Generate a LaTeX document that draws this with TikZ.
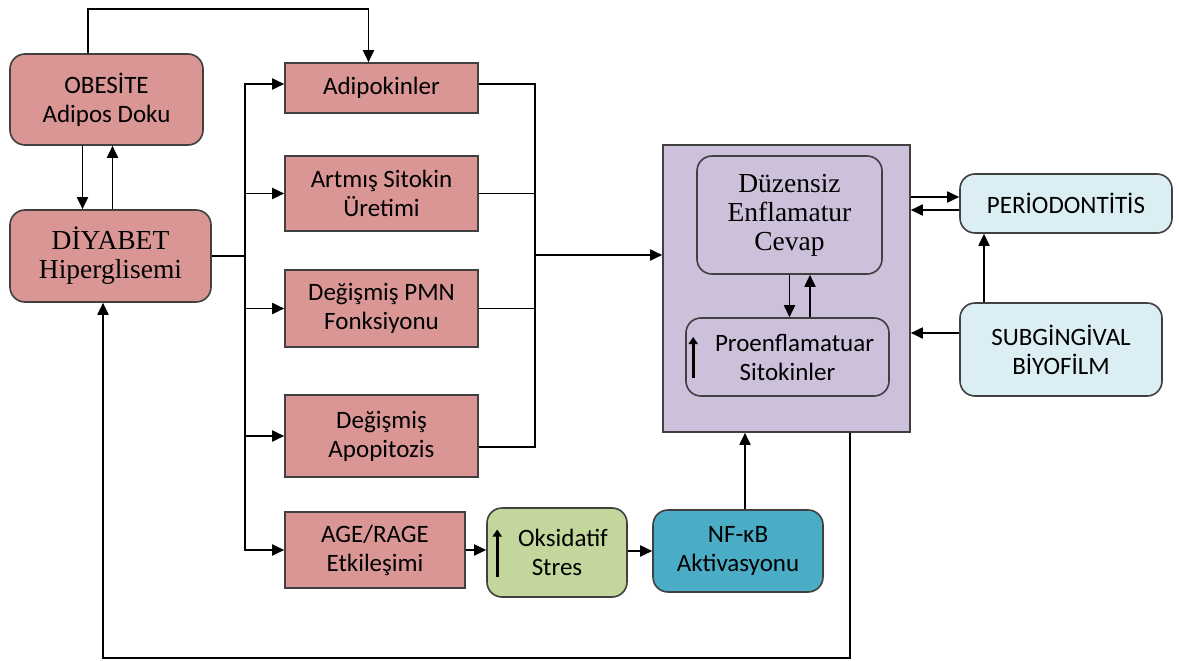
\documentclass[tikz,border=0pt]{standalone}
\usepackage{fontspec}
\setmainfont{Carlito}
\newfontfamily\seriffont{Liberation Serif}
\usetikzlibrary{arrows.meta}

\definecolor{boxline}{HTML}{404040}
\definecolor{pinkfill}{HTML}{D99694}
\definecolor{lilacfill}{HTML}{CCC0DA}
\definecolor{skyfill}{HTML}{DBEEF4}
\definecolor{limefill}{HTML}{C3D69B}
\definecolor{tealfill}{HTML}{4BACC6}

\begin{document}
\begin{tikzpicture}[
x=1pt, y=-1pt,
every node/.style={draw=boxline, line width=1.6pt, align=center, inner sep=0pt,
  font=\fontsize{25}{29}\selectfont},
redbox/.style={fill=pinkfill, minimum width=193pt},
roundbox/.style={rounded corners=15pt},
serifbox/.style={font=\seriffont\fontsize{27.5}{29}\selectfont},
>={Triangle[length=12pt,width=11pt]},
arr/.style={->, line width=1.8pt},
uparr/.style={-{Triangle[length=7pt,width=9pt]}, line width=3pt}
]
\useasboundingbox (0,0) rectangle (1179,661);

% left column
\node (obes) [redbox, roundbox, minimum height=91pt] at (106.5,99.5) {OBESİTE\\Adipos Doku};
\node (diab) [redbox, roundbox, serifbox, minimum width=201pt, minimum height=92pt] at (110.5,256) {DİYABET\\Hiperglisemi};

% mechanisms
\node (adip) [redbox, minimum height=50pt] at (381.5,88) {Adipokinler};
\node (sito) [redbox, minimum height=75pt] at (381.5,193.5) {Artmış Sitokin\\Üretimi};
\node (pmn) [redbox, minimum height=77pt] at (381.5,308.5) {Değişmiş PMN\\Fonksiyonu};
\node (apop) [redbox, minimum height=82pt] at (381.5,436) {Değişmiş\\Apopitozis};
\node (age) [redbox, minimum width=180pt, minimum height=76pt] at (375,550) {AGE/RAGE\\Etkileşimi};
\node (oks) [roundbox, fill=limefill, minimum width=140pt, minimum height=89pt] at (557,552.5) {\hspace*{12pt}Oksidatif\\Stres};
\node (nfkb) [roundbox, fill=tealfill, minimum width=170pt, minimum height=82pt] at (738,551) {NF-κB\\Aktivasyonu};

% inflammation block
\node (infl) [fill=lilacfill, minimum width=247pt, minimum height=287pt] at (786.5,288.5) {};
\node (duz) [roundbox, serifbox, fill=lilacfill, minimum width=185pt, minimum height=118pt] at (789.5,215) {Düzensiz\\Enflamatur\\Cevap};
\node (pro) [roundbox, fill=lilacfill, minimum width=203pt, minimum height=78pt] at (787.5,357) {\hspace*{14pt}Proenflamatuar\\Sitokinler};

% right column
\node (perio) [roundbox, fill=skyfill, minimum width=212pt, minimum height=59pt] at (1066,203.5) {PERİODONTİTİS};
\node (subg) [roundbox, fill=skyfill, minimum width=202pt, minimum height=93pt] at (1061,349.5) {SUBGİNGİVAL\\BİYOFİLM};

% increase marks
\draw[uparr] ([xshift=8pt,yshift=-21pt]pro.west) -- ([xshift=8pt,yshift=20pt]pro.west);
\draw[uparr] ([xshift=11pt,yshift=-24pt]oks.west) -- ([xshift=11pt,yshift=23pt]oks.west);

% obesity and diabetes
\draw[arr] ([xshift=-18.5pt]obes.north) -- ++(0,-44) -| ([xshift=-13pt]adip.north);
\draw[arr] ([xshift=-24pt]obes.south) -- ([xshift=-24pt]obes.south |- diab.north);
\draw[arr] ([xshift=6pt]obes.south |- diab.north) -- ([xshift=6pt]obes.south);

% bus to mechanisms
\draw[arr] (diab.east) -- ++(33,0) |- ([yshift=4pt]adip.west);
\draw[arr] (diab.east) -- ++(33,0) |- (sito.west);
\draw[arr] (diab.east) -- ++(33,0) |- (pmn.west);
\draw[arr] (diab.east) -- ++(33,0) |- (apop.west);
\draw[arr] (diab.east) -- ++(33,0) |- (age.west);

% mechanisms to inflammation
\coordinate (merge) at (535,255);
\draw[line width=1.8pt] ([yshift=4pt]adip.east) -| (merge);
\draw[line width=1.8pt] (sito.east) -| (merge);
\draw[line width=1.8pt] (pmn.east) -| (merge);
\draw[line width=1.8pt] ([yshift=-11pt]apop.east) -| (merge);
\draw[arr] (merge) -- (merge -| infl.west);

\draw[arr] (age.east) -- (age.east -| oks.west);
\draw[arr] (nfkb.west -| oks.east) -- (nfkb.west);
\draw[arr] ([xshift=7pt]nfkb.north) -- ([xshift=7pt]nfkb.north |- infl.south);

\draw[arr] (duz.south) -- (duz.south |- pro.north);
\draw[arr] ([xshift=20.5pt]duz.south |- pro.north) -- ([xshift=20.5pt]duz.south);

% periodontal side
\draw[arr] ([yshift=6.5pt]perio.west -| infl.east) -- ([yshift=6.5pt]perio.west);
\draw[arr] ([yshift=-6.5pt]perio.west) -- ([yshift=-6.5pt]perio.west -| infl.east);
\draw[arr] ([yshift=16.5pt]subg.west) -- ([yshift=16.5pt]subg.west -| infl.east);
\draw[arr] ([xshift=-77pt]subg.north) -- ([xshift=-77pt]subg.north |- perio.south);

% feedback to diabetes
\draw[arr] ([xshift=63.5pt]infl.south) -- ++(0,225) -| ([xshift=-7.5pt]diab.south);

\end{tikzpicture}
\end{document}
